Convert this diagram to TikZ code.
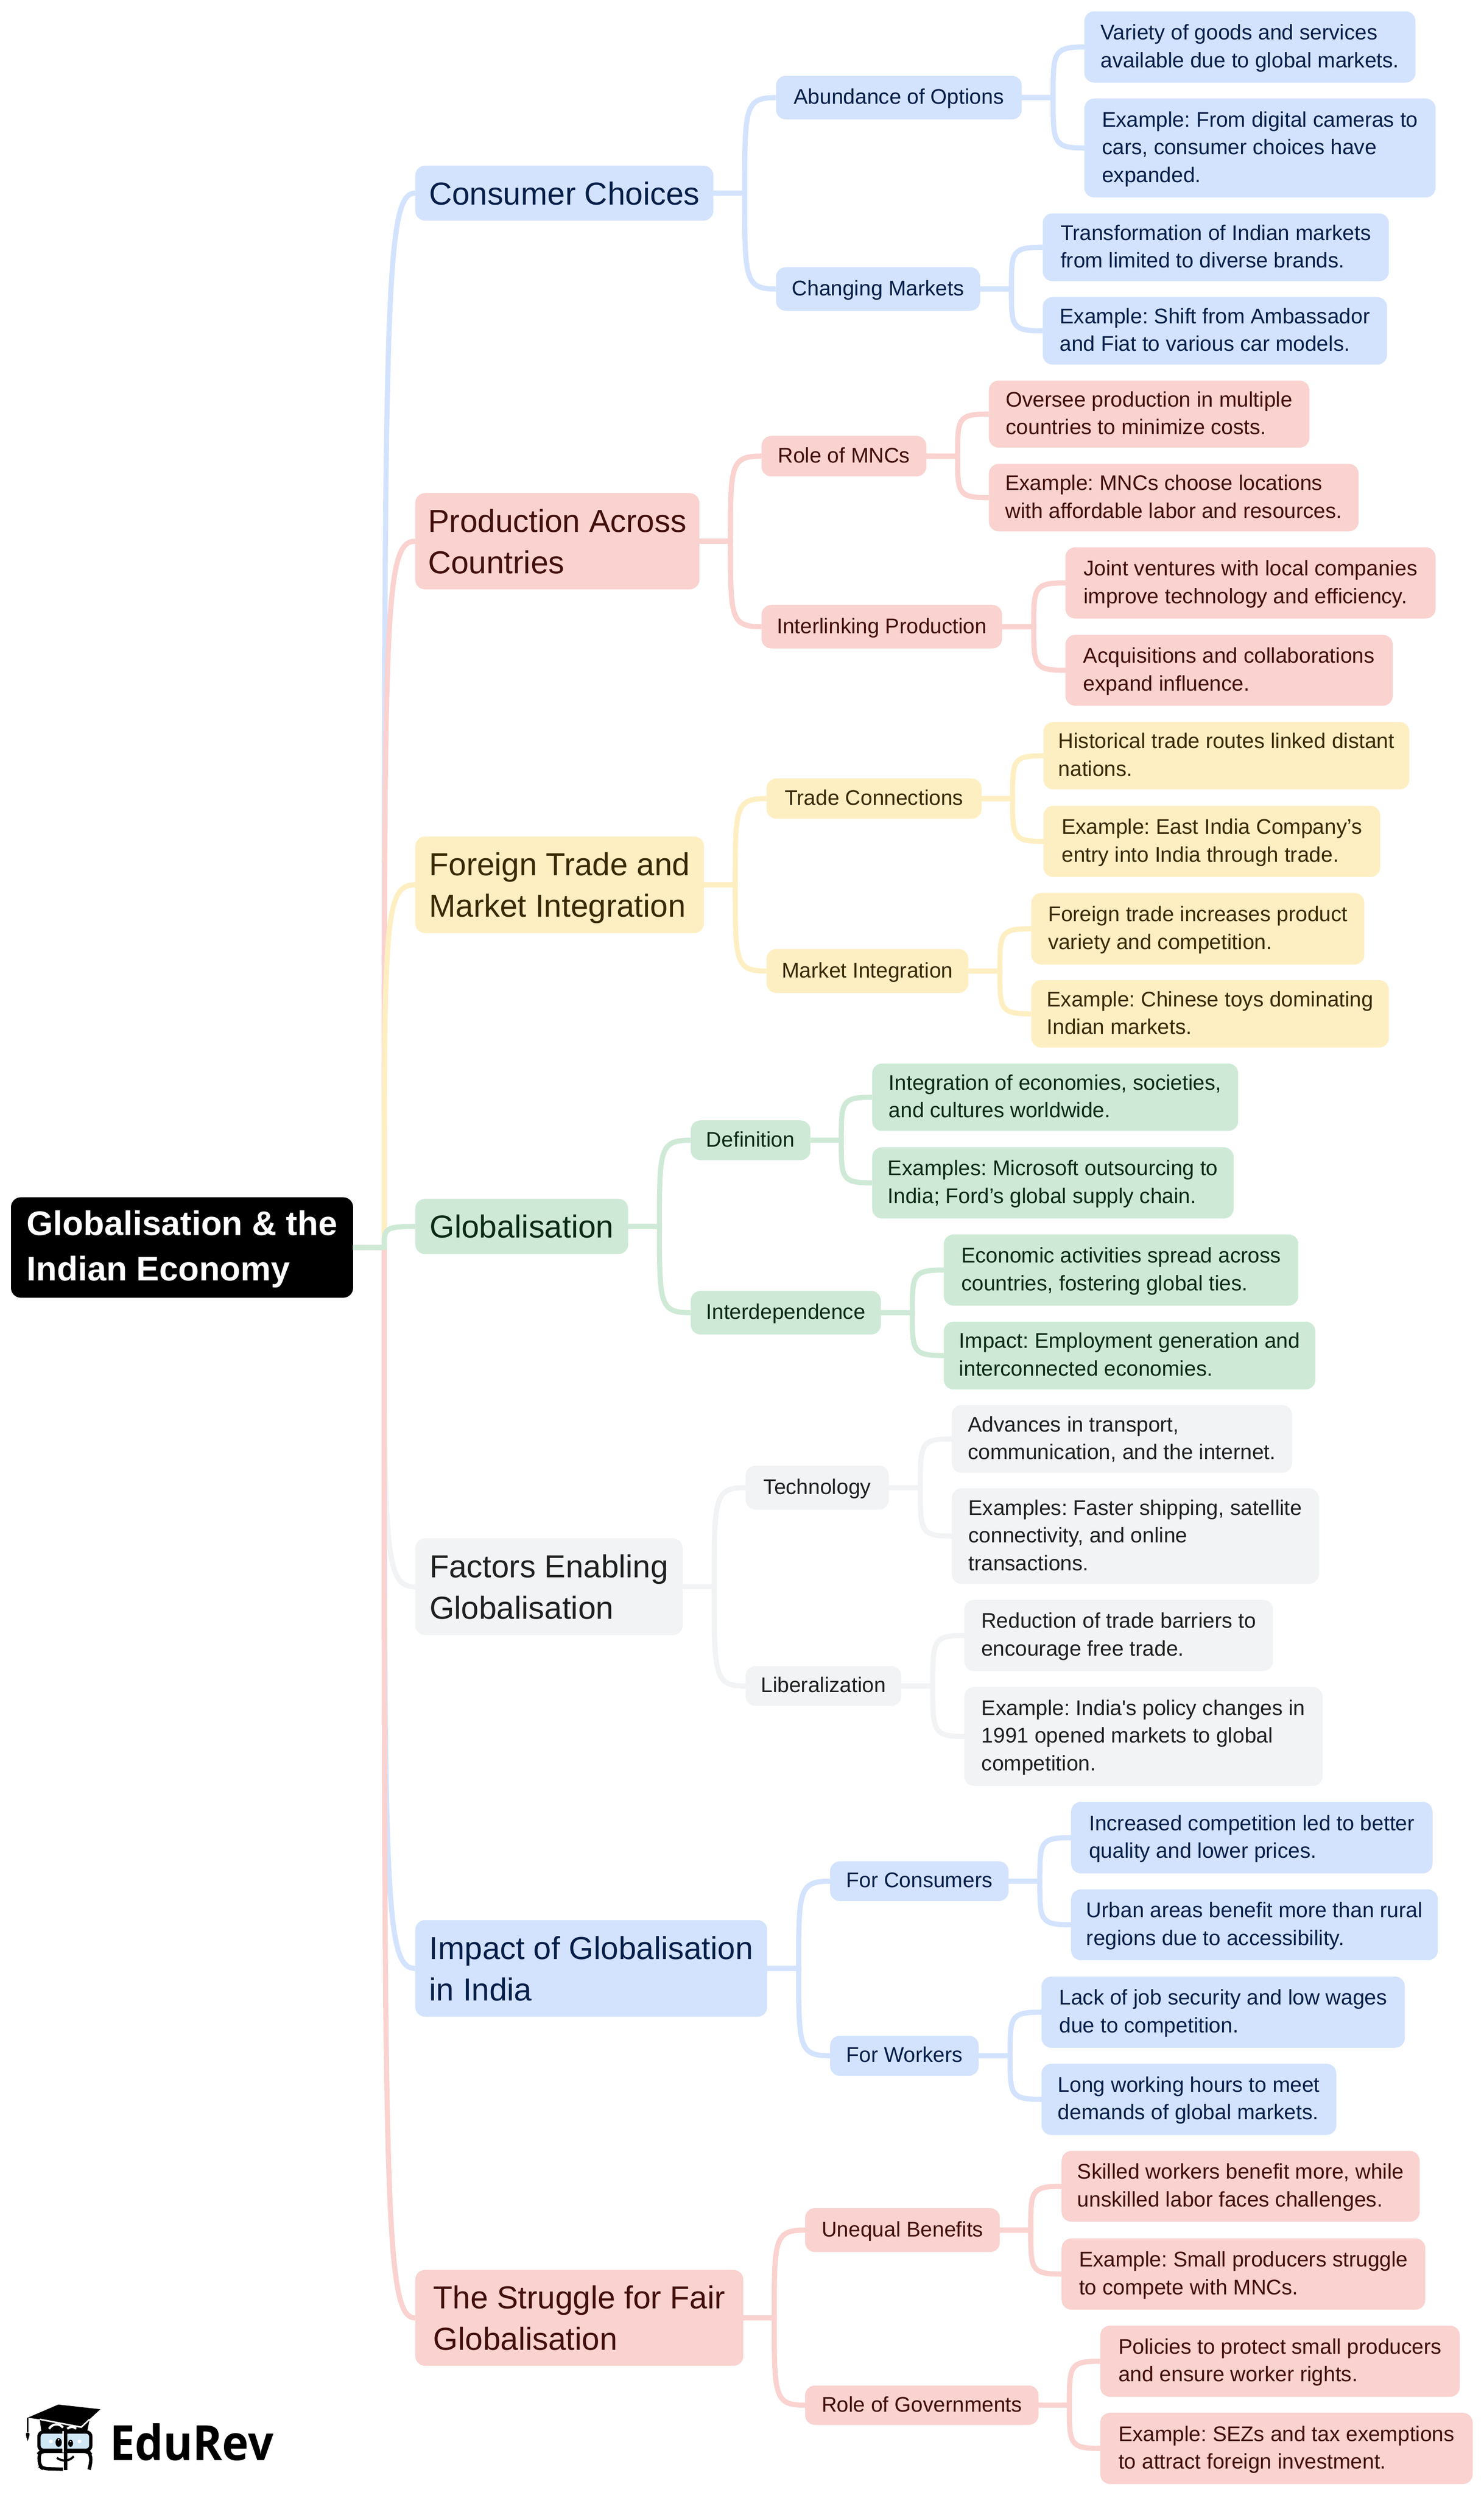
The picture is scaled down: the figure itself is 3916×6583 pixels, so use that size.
\documentclass[tikz,border=0pt]{standalone}
\usepackage{fontspec}
\setmainfont{Liberation Sans}
\newfontfamily\logofont{Open Sans}
\usetikzlibrary{calc}
\frenchspacing
\definecolor{blueFill}{HTML}{D3E3FD}
\definecolor{redFill}{HTML}{FAD2CF}
\definecolor{yellowFill}{HTML}{FEEFC3}
\definecolor{greenFill}{HTML}{CEEAD6}
\definecolor{greyFill}{HTML}{F1F3F4}
\definecolor{blueText}{HTML}{041E49}
\definecolor{redText}{HTML}{410E0B}
\definecolor{yellowText}{HTML}{3A2800}
\definecolor{greenText}{HTML}{0A2A14}
\definecolor{greyText}{HTML}{1F1F1F}
\definecolor{lens}{HTML}{CFE6F5}
\tikzset{
	mapbox/.style={rectangle, rounded corners=6.5pt, inner sep=0pt, outer sep=0pt, align=left},
	rootbox/.style={mapbox, fill=black, text=white, text depth=2.7pt, font=\fontsize{22.5}{30}\selectfont\bfseries},
	topicbox/.style={mapbox, text depth=0pt, font=\fontsize{21}{27.25}\selectfont},
	leafbox/.style={mapbox, text depth=1.5pt, font=\fontsize{14}{18.25}\selectfont},
	bluebox/.style={fill=blueFill, text=blueText},
	redbox/.style={fill=redFill, text=redText},
	yellowbox/.style={fill=yellowFill, text=yellowText},
	greenbox/.style={fill=greenFill, text=greenText},
	greybox/.style={fill=greyFill, text=greyText},
	linkline/.style={line width=3.4pt}
}
\newcommand{\mapnode}[7]{\node[#2, minimum width={(#5-#3)*0.25pt}, minimum height={(#6-#4)*0.25pt}] (#1) at ({(#3+#5)/2},{(#4+#6)/2}) {#7};}
\newcommand{\branch}[3]{\draw[linkline, #1] let \p1=(#2.east), \p2=(#3.west) in (\p1) -- ({0.5*\x1+0.5*\x2},\y1) .. controls ({0.5*\x1+0.5*\x2},{\y1+0.9*(\y2-\y1)}) and ({0.5*\x1+0.5*\x2},\y2) .. (\p2);}
\begin{document}
\begin{tikzpicture}[x=0.25pt, y=-0.25pt]
	\useasboundingbox (0,0) rectangle (3916,6583);

	\mapnode{root}{rootbox}{29}{3159}{932}{3424}{Globalisation \& the\\Indian Economy}

	\mapnode{consumer}{topicbox, bluebox}{1096}{437}{1883}{582}{Consumer Choices}
	\mapnode{abundance}{leafbox, bluebox}{2048}{200}{2697}{315}{Abundance of Options}
	\mapnode{variety}{leafbox, bluebox}{2862}{30}{3736}{218}{Variety of goods and services\\available due to global markets.}
	\mapnode{cameras}{leafbox, bluebox}{2862}{260}{3789}{521}{Example: From digital cameras to\\cars, consumer choices have\\expanded.}
	\mapnode{changing}{leafbox, bluebox}{2048}{705}{2587}{820}{Changing Markets}
	\mapnode{transform}{leafbox, bluebox}{2752}{563}{3666}{742}{Transformation of Indian markets\\from limited to diverse brands.}
	\mapnode{ambassador}{leafbox, bluebox}{2752}{784}{3661}{962}{Example: Shift from Ambassador\\and Fiat to various car models.}

	\mapnode{production}{topicbox, redbox}{1096}{1301}{1846}{1555}{Production Across\\Countries}
	\mapnode{mncs}{leafbox, redbox}{2010}{1150}{2445}{1257}{Role of MNCs}
	\mapnode{oversee}{leafbox, redbox}{2610}{1004}{3456}{1181}{Oversee production in multiple\\countries to minimize costs.}
	\mapnode{locations}{leafbox, redbox}{2610}{1224}{3586}{1402}{Example: MNCs choose locations\\with affordable labor and resources.}
	\mapnode{interlink}{leafbox, redbox}{2010}{1596}{2645}{1711}{Interlinking Production}
	\mapnode{joint}{leafbox, redbox}{2812}{1444}{3789}{1632}{Joint ventures with local companies\\improve technology and efficiency.}
	\mapnode{acquire}{leafbox, redbox}{2812}{1675}{3676}{1862}{Acquisitions and collaborations\\expand influence.}

	\mapnode{foreign}{topicbox, yellowbox}{1096}{2207}{1858}{2462}{Foreign Trade and\\Market Integration}
	\mapnode{connect}{leafbox, yellowbox}{2023}{2054}{2591}{2160}{Trade Connections}
	\mapnode{routes}{leafbox, yellowbox}{2754}{1905}{3720}{2083}{Historical trade routes linked distant\\nations.}
	\mapnode{company}{leafbox, yellowbox}{2754}{2126}{3643}{2314}{Example: East India Company’s\\entry into India through trade.}
	\mapnode{market}{leafbox, yellowbox}{2023}{2504}{2556}{2620}{Market Integration}
	\mapnode{variation}{leafbox, yellowbox}{2722}{2356}{3601}{2545}{Foreign trade increases product\\variety and competition.}
	\mapnode{toys}{leafbox, yellowbox}{2722}{2586}{3666}{2764}{Example: Chinese toys dominating\\Indian markets.}

	\mapnode{global}{topicbox, greenbox}{1096}{3163}{1658}{3309}{Globalisation}
	\mapnode{define}{leafbox, greenbox}{1823}{2956}{2139}{3061}{Definition}
	\mapnode{integrate}{leafbox, greenbox}{2302}{2806}{3268}{2984}{Integration of economies, societies,\\and cultures worldwide.}
	\mapnode{microsoft}{leafbox, greenbox}{2302}{3027}{3256}{3215}{Examples: Microsoft outsourcing to\\India; Ford’s global supply chain.}
	\mapnode{interdep}{leafbox, greenbox}{1823}{3406}{2325}{3521}{Interdependence}
	\mapnode{spread}{leafbox, greenbox}{2491}{3257}{3427}{3445}{Economic activities spread across\\countries, fostering global ties.}
	\mapnode{jobs}{leafbox, greenbox}{2491}{3487}{3472}{3666}{Impact: Employment generation and\\interconnected economies.}

	\mapnode{factors}{topicbox, greybox}{1096}{4059}{1802}{4314}{Factors Enabling\\Globalisation}
	\mapnode{tech}{leafbox, greybox}{1968}{3867}{2346}{3983}{Technology}
	\mapnode{advances}{leafbox, greybox}{2512}{3707}{3410}{3886}{Advances in transport,\\communication, and the internet.}
	\mapnode{shipping}{leafbox, greybox}{2512}{3927}{3481}{4179}{Examples: Faster shipping, satellite\\connectivity, and online\\transactions.}
	\mapnode{liberal}{leafbox, greybox}{1968}{4396}{2379}{4501}{Liberalization}
	\mapnode{barriers}{leafbox, greybox}{2545}{4221}{3360}{4409}{Reduction of trade barriers to\\encourage free trade.}
	\mapnode{policy}{leafbox, greybox}{2545}{4451}{3491}{4712}{Example: India\textquotesingle s policy changes in\\1991 opened markets to global\\competition.}

	\mapnode{impact}{topicbox, bluebox}{1096}{5066}{2025}{5321}{Impact of Globalisation\\in India}
	\mapnode{forcons}{leafbox, bluebox}{2191}{4911}{2662}{5016}{For Consumers}
	\mapnode{quality}{leafbox, bluebox}{2827}{4754}{3781}{4943}{Increased competition led to better\\quality and lower prices.}
	\mapnode{urban}{leafbox, bluebox}{2827}{4985}{3795}{5172}{Urban areas benefit more than rural\\regions due to accessibility.}
	\mapnode{forwork}{leafbox, bluebox}{2191}{5371}{2583}{5477}{For Workers}
	\mapnode{wages}{leafbox, bluebox}{2749}{5215}{3708}{5403}{Lack of job security and low wages\\due to competition.}
	\mapnode{hours}{leafbox, bluebox}{2749}{5445}{3527}{5633}{Long working hours to meet\\demands of global markets.}

	\mapnode{struggle}{topicbox, redbox}{1096}{5989}{1962}{6242}{The Struggle for Fair\\Globalisation}
	\mapnode{unequal}{leafbox, redbox}{2125}{5826}{2639}{5942}{Unequal Benefits}
	\mapnode{skilled}{leafbox, redbox}{2802}{5675}{3747}{5862}{Skilled workers benefit more, while\\unskilled labor faces challenges.}
	\mapnode{small}{leafbox, redbox}{2802}{5906}{3762}{6094}{Example: Small producers struggle\\to compete with MNCs.}
	\mapnode{govern}{leafbox, redbox}{2125}{6294}{2741}{6398}{Role of Governments}
	\mapnode{protect}{leafbox, redbox}{2904}{6136}{3853}{6324}{Policies to protect small producers\\and ensure worker rights.}
	\mapnode{sezs}{leafbox, redbox}{2904}{6366}{3887}{6554}{Example: SEZs and tax exemptions\\to attract foreign investment.}

	\branch{blueFill}{root}{consumer}
	\branch{redFill}{root}{production}
	\branch{yellowFill}{root}{foreign}
	\branch{greyFill}{root}{factors}
	\branch{blueFill}{root}{impact}
	\branch{redFill}{root}{struggle}
	\branch{greenFill}{root}{global}

	\branch{blueFill}{consumer}{abundance}
	\branch{blueFill}{consumer}{changing}
	\branch{blueFill}{abundance}{variety}
	\branch{blueFill}{abundance}{cameras}
	\branch{blueFill}{changing}{transform}
	\branch{blueFill}{changing}{ambassador}

	\branch{redFill}{production}{mncs}
	\branch{redFill}{production}{interlink}
	\branch{redFill}{mncs}{oversee}
	\branch{redFill}{mncs}{locations}
	\branch{redFill}{interlink}{joint}
	\branch{redFill}{interlink}{acquire}

	\branch{yellowFill}{foreign}{connect}
	\branch{yellowFill}{foreign}{market}
	\branch{yellowFill}{connect}{routes}
	\branch{yellowFill}{connect}{company}
	\branch{yellowFill}{market}{variation}
	\branch{yellowFill}{market}{toys}

	\branch{greenFill}{global}{define}
	\branch{greenFill}{global}{interdep}
	\branch{greenFill}{define}{integrate}
	\branch{greenFill}{define}{microsoft}
	\branch{greenFill}{interdep}{spread}
	\branch{greenFill}{interdep}{jobs}

	\branch{greyFill}{factors}{tech}
	\branch{greyFill}{factors}{liberal}
	\branch{greyFill}{tech}{advances}
	\branch{greyFill}{tech}{shipping}
	\branch{greyFill}{liberal}{barriers}
	\branch{greyFill}{liberal}{policy}

	\branch{blueFill}{impact}{forcons}
	\branch{blueFill}{impact}{forwork}
	\branch{blueFill}{forcons}{quality}
	\branch{blueFill}{forcons}{urban}
	\branch{blueFill}{forwork}{wages}
	\branch{blueFill}{forwork}{hours}

	\branch{redFill}{struggle}{unequal}
	\branch{redFill}{struggle}{govern}
	\branch{redFill}{unequal}{skilled}
	\branch{redFill}{unequal}{small}
	\branch{redFill}{govern}{protect}
	\branch{redFill}{govern}{sezs}

	\node[font=\fontsize{32}{32}\selectfont\logofont\bfseries, inner sep=0pt, anchor=base west, xscale=0.925, transform shape] (edurev) at (289,6491) {EduRev};
	\begin{scope}[shift={(40,6300)}, x=0.11475pt, y=-0.0833pt]
		\fill (72,237) -- (248,133) -- (490,170) -- (380,310) -- (142,250) -- cycle;
		\fill (142,250) -- (380,310) -- (428,250) -- (415,342) -- (150,342) -- cycle;
		\draw[white, line width=1pt] (142,250) -- (380,312) -- (428,250);
		\draw[white, line width=1.5pt] (195,325) .. controls (215,280) and (255,280) .. (275,315);
		\draw[white, line width=1.5pt] (300,325) .. controls (315,305) and (340,305) .. (350,325);
		\draw[line width=0.9pt] (72,237) -- (72,350);
		\fill (62,365) .. controls (64,350) and (80,350) .. (83,365) .. controls (82,385) and (76,405) .. (72,422) .. controls (68,405) and (62,385) .. (62,365);
		\draw[fill=lens, line width=2.2pt, rounded corners=3pt] (137,350) rectangle (435,495);
		\draw[line width=2.2pt, rounded corners=3pt] (275,645) -- (160,640) -- (140,620) -- (137,520) -- (150,503) -- (420,503) -- (435,530) -- (435,600) -- (425,648);
		\draw[white, line width=1.8pt] (279,345) -- (279,515);
		\draw[line width=2pt] (290,345) -- (290,650);
		\fill (250,433) ellipse [x radius=18, y radius=35];
		\fill (319,440) ellipse [x radius=14, y radius=28];
		\fill[white] (250,412) ellipse [x radius=5, y radius=7];
		\fill[white] (319,425) ellipse [x radius=5, y radius=6];
		\fill[white] (205,425) ellipse [x radius=11, y radius=15];
		\fill[white] (370,425) ellipse [x radius=11, y radius=15];
		\draw[line width=1.4pt] (240,555) .. controls (270,585) and (310,585) .. (337,543);
	\end{scope}
\end{tikzpicture}
\end{document}
